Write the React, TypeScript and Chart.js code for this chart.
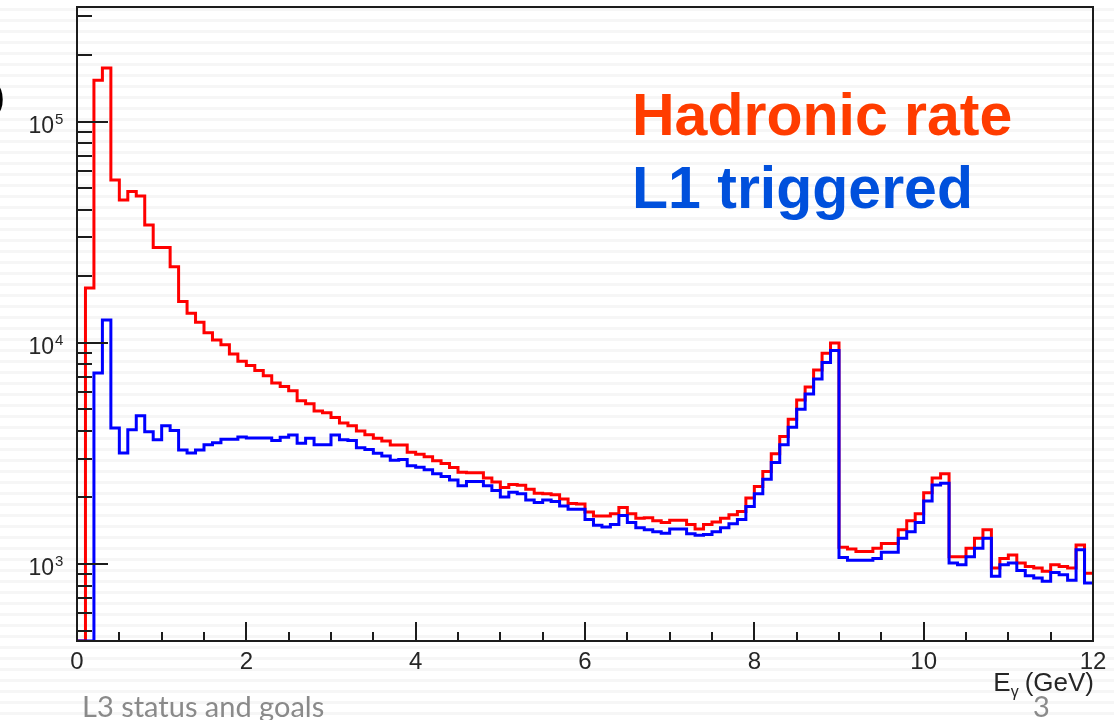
import React, { useEffect, useRef } from 'react';
import { Chart, registerables } from 'chart.js';

Chart.register(...registerables);

// ---- data -------------------------------------------------------------
const BIN_WIDTH = 0.1; // GeV
const X_MIN = 0;
const X_MAX = 12;
const Y_MIN = 449;
const Y_MAX = 330000;

// Hadronic rate (red), one value per 0.1 GeV bin from 0 to 12 GeV
const hadronicRate = [
  449, 17700, 154000, 175000, 54500, 44300, 48300, 46100, 34100, 27000,
  27000, 22100, 15400, 13600, 12400, 11100, 10300, 9800, 8900, 8250,
  7900, 7500, 7100, 6580, 6350, 6080, 5480, 5300, 4920, 4830,
  4600, 4340, 4220, 4000, 3840, 3710, 3600, 3450, 3450, 3200,
  3140, 3060, 2930, 2850, 2730, 2600, 2590, 2590, 2450, 2350,
  2220, 2290, 2270, 2180, 2090, 2080, 2060, 1970, 1880, 1870,
  1720, 1650, 1650, 1690, 1800, 1690, 1610, 1620, 1570, 1540,
  1580, 1580, 1510, 1440, 1510, 1550, 1610, 1670, 1730, 1990,
  2240, 2620, 3150, 3770, 4520, 5520, 6310, 7550, 8980, 10000,
  1190, 1170, 1140, 1140, 1180, 1240, 1240, 1430, 1570, 1690,
  2100, 2450, 2560, 1080, 1080, 1180, 1310, 1430, 960, 1060,
  1100, 1010, 975, 960, 927, 994, 975, 960, 1220, 910,
];

// L1 triggered (blue)
const l1Triggered = [
  449, 449, 7300, 12700, 4120, 3180, 4050, 4680, 3970, 3650,
  4220, 4020, 3280, 3180, 3280, 3460, 3540, 3670, 3670, 3750,
  3720, 3720, 3720, 3620, 3740, 3830, 3520, 3710, 3460, 3460,
  3830, 3650, 3620, 3360, 3300, 3170, 3080, 2950, 2970, 2780,
  2740, 2670, 2560, 2490, 2400, 2260, 2360, 2360, 2260, 2150,
  2010, 2110, 2080, 1950, 1900, 1950, 1920, 1830, 1770, 1770,
  1590, 1500, 1470, 1510, 1660, 1540, 1460, 1430, 1400, 1380,
  1440, 1440, 1370, 1350, 1360, 1400, 1460, 1520, 1590, 1820,
  2080, 2420, 2880, 3460, 4160, 5010, 5880, 6860, 8150, 9230,
  1070, 1040, 1040, 1040, 1060, 1130, 1130, 1310, 1400, 1540,
  1930, 2280, 2320, 1010, 994, 1080, 1180, 1310, 880, 994,
  1010, 936, 886, 866, 836, 916, 894, 844, 1160, 822,
];

const xMajorTicks = [0, 2, 4, 6, 8, 10, 12];
const xTickLabels = ['0', '2', '4', '6', '8', '10', '12'];
const xMinorStep = 0.5;
const yDecadeExponents = [3, 4, 5];
const seriesLabels = ['Hadronic rate', 'L1 triggered'];
const xAxisTitle = { main: 'E', sub: 'γ', unit: '(GeV)' };

// ---- helpers ----------------------------------------------------------
function toHistogramPoints(values: number[]) {
  const pts = values.map((v, i) => ({ x: Math.round(i * BIN_WIDTH * 10) / 10, y: v }));
  pts.push({ x: X_MAX, y: values[values.length - 1] });
  return pts;
}

const FONT = '"Liberation Sans", Arial, Helvetica, sans-serif';

const rootStylePlugin = {
  id: 'rootStyle',
  afterDraw(chart: any) {
    const { ctx, chartArea: a } = chart;
    const xs = chart.scales.x;
    const ys = chart.scales.y;
    ctx.save();

    // frame
    ctx.strokeStyle = '#1c1c1c';
    ctx.lineWidth = 2;
    ctx.strokeRect(a.left, a.top, a.right - a.left, a.bottom - a.top);

    // x ticks (inside)
    ctx.lineWidth = 2;
    ctx.beginPath();
    for (let v = X_MIN; v <= X_MAX + 1e-9; v += xMinorStep) {
      const px = Math.round(xs.getPixelForValue(v));
      const major = xMajorTicks.includes(v);
      ctx.moveTo(px, a.bottom);
      ctx.lineTo(px, a.bottom - (major ? 19 : 9));
    }
    ctx.stroke();

    // y ticks (inside, log)
    ctx.beginPath();
    for (let d = 2; d <= 5; d++) {
      for (let m = 1; m <= 9; m++) {
        const v = m * Math.pow(10, d);
        if (v < Y_MIN || v > Y_MAX) continue;
        const py = Math.round(ys.getPixelForValue(v));
        ctx.moveTo(a.left, py);
        ctx.lineTo(a.left + (m === 1 ? 31 : 15), py);
      }
    }
    ctx.stroke();

    // x tick labels
    ctx.fillStyle = '#262626';
    ctx.font = `24px ${FONT}`;
    ctx.textAlign = 'center';
    ctx.textBaseline = 'alphabetic';
    xMajorTicks.forEach((v, i) => {
      ctx.fillText(xTickLabels[i], xs.getPixelForValue(v), 669);
    });

    // y tick labels 10^n
    yDecadeExponents.forEach((e) => {
      const py = ys.getPixelForValue(Math.pow(10, e));
      ctx.font = `23px ${FONT}`;
      ctx.textAlign = 'right';
      ctx.fillText('10', 54, py + 11);
      ctx.font = `15px ${FONT}`;
      ctx.textAlign = 'left';
      ctx.fillText(String(e), 55, py + 2);
    });

    // x axis title
    ctx.fillStyle = '#262626';
    ctx.font = `26px ${FONT}`;
    ctx.textAlign = 'right';
    ctx.fillText(xAxisTitle.unit, a.right + 1, 691);
    const unitW = ctx.measureText(xAxisTitle.unit).width;
    ctx.font = `16px ${FONT}`;
    ctx.fillText(xAxisTitle.sub, a.right + 1 - unitW - 6, 697);
    const subW = ctx.measureText(xAxisTitle.sub).width;
    ctx.font = `26px ${FONT}`;
    ctx.fillText(xAxisTitle.main, a.right + 1 - unitW - 6 - subW, 691);

    // series labels
    ctx.textAlign = 'left';
    ctx.font = `bold 59px ${FONT}`;
    ctx.fillStyle = '#ff3c00';
    ctx.fillText(seriesLabels[0], 632, 135);
    ctx.fillStyle = '#0050dc';
    ctx.fillText(seriesLabels[1], 632, 208);

    ctx.restore();
  },
};

export default function App() {
  const canvasRef = useRef<HTMLCanvasElement | null>(null);

  useEffect(() => {
    if (!canvasRef.current) return;
    const chart = new Chart(canvasRef.current, {
      type: 'line',
      data: {
        datasets: [
          {
            label: seriesLabels[0],
            data: toHistogramPoints(hadronicRate),
            borderColor: '#ff0000',
            borderWidth: 3,
            stepped: 'before',
            pointRadius: 0,
            fill: false,
            order: 1,
          },
          {
            label: seriesLabels[1],
            data: toHistogramPoints(l1Triggered),
            borderColor: '#0000ff',
            borderWidth: 3,
            stepped: 'before',
            pointRadius: 0,
            fill: false,
            order: 0,
          },
        ],
      },
      options: {
        responsive: false,
        animation: false,
        events: [],
        layout: { padding: { left: 77, right: 21, top: 7, bottom: 79 } },
        plugins: { legend: { display: false }, tooltip: { enabled: false } },
        scales: {
          x: { type: 'linear', min: X_MIN, max: X_MAX, display: false },
          y: { type: 'logarithmic', min: Y_MIN, max: Y_MAX, display: false },
        },
      },
      plugins: [rootStylePlugin],
    });
    return () => chart.destroy();
  }, []);

  return (
    <div
      style={{
        position: 'absolute',
        left: 0,
        top: 0,
        width: 1114,
        height: 720,
        overflow: 'hidden',
        background:
          'repeating-linear-gradient(to bottom, #ffffff 0px, #ffffff 8px, #f6f6f6 8px, #f6f6f6 11px)',
      }}
    >
      <canvas ref={canvasRef} width={1114} height={720} style={{ display: 'block', position: 'absolute', left: 0, top: 0 }} />
      <div style={{ position: 'absolute', left: -7, top: 76, font: `36px ${FONT}`, color: '#000' }}>)</div>
      <div
        style={{
          position: 'absolute',
          left: 82,
          top: 689,
          font: '29px Lato, "Liberation Sans", sans-serif',
          color: '#8a8a8a',
          whiteSpace: 'nowrap',
          lineHeight: '34px',
        }}
      >
        L3 status and goals
      </div>
      <div
        style={{
          position: 'absolute',
          left: 1033,
          top: 689,
          font: '29px Lato, "Liberation Sans", sans-serif',
          color: '#8a8a8a',
          lineHeight: '34px',
        }}
      >
        3
      </div>
    </div>
  );
}
